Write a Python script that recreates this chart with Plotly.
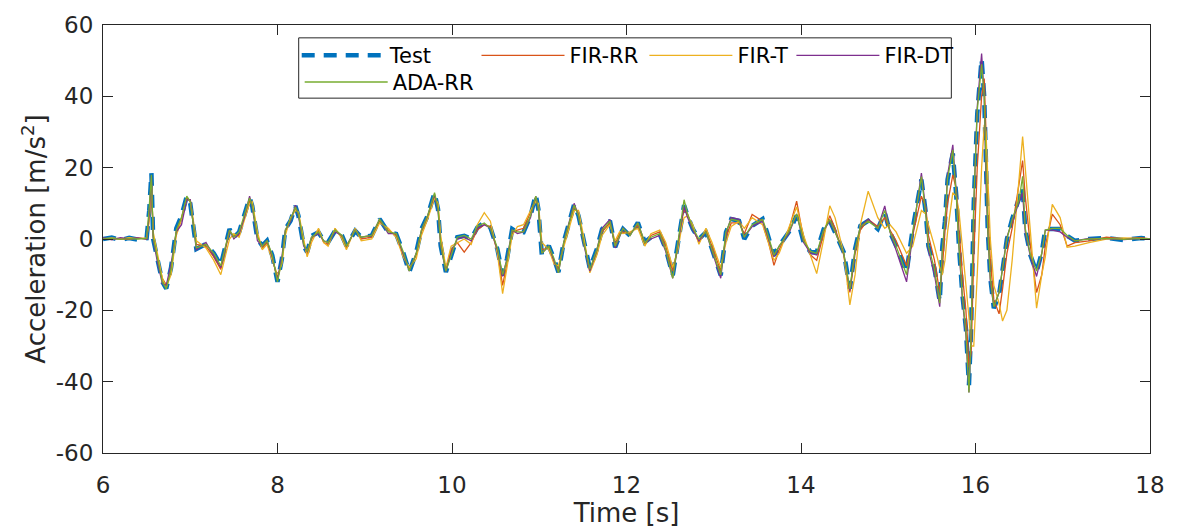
import plotly.graph_objects as go

# time grid [s]
t = [6.00, 6.10, 6.20, 6.30, 6.40, 6.50, 6.53, 6.555, 6.575, 6.62,
     6.68, 6.725, 6.78, 6.84, 6.90, 6.96, 7.00, 7.07, 7.18, 7.27,
     7.35, 7.45, 7.50, 7.56, 7.62, 7.68, 7.71, 7.77, 7.825, 7.88,
     7.94, 8.00, 8.05, 8.09, 8.15, 8.205, 8.24, 8.30, 8.34, 8.39,
     8.47, 8.53, 8.58, 8.66, 8.74, 8.79, 8.89, 8.96, 9.08, 9.17,
     9.27, 9.36, 9.44, 9.51, 9.59, 9.65, 9.72, 9.80, 9.84, 9.87,
     9.93, 9.99, 10.06, 10.14, 10.22, 10.29, 10.37, 10.44, 10.52, 10.58,
     10.63, 10.69, 10.75, 10.82, 10.90, 10.96, 10.99, 11.03, 11.11, 11.17,
     11.22, 11.28, 11.34, 11.40, 11.45, 11.51, 11.58, 11.66, 11.72, 11.81,
     11.87, 11.92, 11.96, 12.04, 12.13, 12.21, 12.28, 12.38, 12.45, 12.53,
     12.59, 12.63, 12.66, 12.70, 12.76, 12.83, 12.91, 12.98, 13.08, 13.14,
     13.20, 13.29, 13.35, 13.44, 13.56, 13.61, 13.69, 13.75, 13.86, 13.95,
     14.03, 14.11, 14.18, 14.26, 14.33, 14.39, 14.49, 14.56, 14.62, 14.68,
     14.77, 14.88, 14.96, 15.02, 15.09, 15.21, 15.28, 15.38, 15.43, 15.46,
     15.53, 15.59, 15.62, 15.65, 15.68, 15.74, 15.78, 15.81, 15.85, 15.89,
     15.925, 15.95, 15.98, 16.02, 16.07, 16.10, 16.12, 16.14, 16.17, 16.21,
     16.27, 16.31, 16.36, 16.42, 16.50, 16.54, 16.57, 16.63, 16.70, 16.76,
     16.80, 16.88, 16.97, 17.05, 17.14, 17.30, 17.50, 17.70, 17.90, 18.00]

test = [0, 0.4, -0.3, 0.3, -0.2, 0.2, 8, 18.5, 0, -5.5,
        -12, -13.9, -8, 3, 6.5, 12, 10, -2.8, -1.4, -4,
        -7.4, 2.8, 0.5, 1.9, 6.5, 11.6, 9.3, 0, -1.9, -0.5,
        -4.6, -12, -5.6, 2.8, 5.1, 9.3, 6.5, -1.9, -3.7, 0.9,
        1.9, -0.5, -0.9, 2.3, 0.9, -1.9, 2.3, 0.5, 0.9, 5.6,
        1.9, 1.4, -3.7, -9.3, -3.7, 2.8, 6.5, 13, 8.3, -1.9,
        -9.3, -4.6, 0.5, 0.9, 0, 3.2, 4.6, 3.2, -2.8, -10.2,
        -5.6, 2.8, 1.9, 1.9, 6.5, 12.5, 8.3, -4.6, -1.9, -5.6,
        -9.3, -0.9, 4.6, 9.7, 6.5, -0.9, -8.3, -2.8, 2.8, 5.1,
        -2.3, 0.9, 2.8, 0.9, 4.6, -0.9, 0.5, 1.4, -2.8, -10.2,
        -0.9, 5.6, 9.5, 6.5, 2.8, 0, 1.9, -2.8, -10.2, 1.9,
        5.6, 5.1, 0, 3.7, 5.6, 1.9, -4.6, -1.9, 1.9, 6.5,
        -0.9, -3.7, -3.7, 2.8, 5.1, 1.9, -3.7, -13.9, -2.8, 3.7,
        5.1, 2.8, 7.4, 1.9, -1.9, -9.3, 2.8, 16.7, 7.4, -1.9,
        -8.3, -17.5, -2, 5, 16.7, 24, 12, -1.9, -15.7, -25,
        -41, -25, 10, 35, 50.5, 39.8, 16.7, 2.8, -11, -19.4,
        -15.7, -8.3, 0, 5.6, 11, 14.5, 2.8, -4.6, -9.3, -3.7,
        2.8, 2.8, 2.8, 0.9, -0.5, 0, 0.3, -0.3, 0.3, 0]

fir_rr = [0.2, 0.1, 0.2, -0.1, 0.3, 0, 6, 16, 1, -5,
          -11, -13, -9, 2, 6, 11.5, 10.5, -1.5, -2, -5,
          -8.5, 2, 1, 1, 6, 10.5, 10, 1, -2.5, -1,
          -5.5, -11, -6.5, 2, 5.5, 8.5, 7, -1, -4.5, 0,
          2.5, -1, -1.5, 2.8, 0.5, -2.5, 2.8, 0, 0.5, 5,
          2.5, 1, -4.5, -8.5, -4.5, 2, 6, 12, 9, -0.5,
          -9, -3, -1, -3.7, -1, 2.5, 4, 3.5, -3.5, -13,
          -7, 2, 2.5, 3, 7.5, 11.5, 9, -3, -2.5, -6.5,
          -8.5, -1.5, 4, 9, 7, -0.5, -9, -3.5, 2, 4.5,
          -1.5, 1.5, 2, 1.5, 3.8, -1.5, 1, 2, -2, -9,
          -2, 5, 8, 7, 3, -1, 2.5, -2, -9, 0.5,
          4.5, 4.5, 1.5, 6.9, 5, 1, -7.4, -3, 2.5, 10.6,
          0, -4.5, -6, 1.5, 6.5, 3, -4.5, -15, -4, 2.5,
          5.5, 3.5, 6, 2.5, -0.5, -7.5, 1, 12, 9, 1,
          -6, -15, -8, 2, 10, 18, 14, 3, -10, -20,
          -36, -32, -5, 20, 40, 45, 30, 8, -6, -17,
          -21, -14, -4, 3, 15, 22, 12, -2, -15, -10,
          -2, 7, 4, -2, -1, -0.5, 0.5, 0, 0.4, 0]

fir_t = [0, 0.3, 0, 0.4, 0.1, 0.3, 5, 15, 2, -4,
         -11, -13.5, -10, 1, 5.5, 11, 11, -0.5, -2.5, -6,
         -10, 0, 1.5, 0.5, 5, 10, 10.5, 2, -3, -1.5,
         -6, -10, -7, 1, 6, 8, 7.5, 0, -5, -1,
         3, -1, -2, 3, 0, -3, 3, -0.5, 0, 4.5,
         3, 0.5, -5, -8, -5.5, 1, 5.5, 11.5, 10, 1,
         -8, -2, -1, 0, -1.5, 4, 7.4, 5, -4, -15.3,
         -8, 1, 3.5, 4, 8, 10.5, 10, -1, -3, -7,
         -7.5, -2.5, 3, 8, 8, 0.5, -9.5, -4.5, 1, 4,
         -0.5, 2, 1.5, 2, 3, -2, 1.5, 2.5, -1, -8,
         -3, 3, 6, 6.5, 4, -1.5, 3, -1, -8, -1,
         3.5, 5, 3, 6, 4, 0, -6, -4, 3, 9,
         1, -5, -9.7, 0, 9.3, 6, -4, -18.5, -10, 4,
         13.4, 6, 3, 4, 2, -4, -2, 8, 7, 4,
         -2, -8, -10, -6, 2, 13, 12, 8, -2, -12,
         -22, -30, -30, -10, 20, 32, 30, 18, 0, -13,
         -18, -23, -20, -6, 18, 28.7, 20, 2, -19.4, -10,
         -5, 9.7, 6, -2.3, -2, -1, 0, 0.3, 0, 0]

fir_dt = [0.3, -0.2, 0.4, 0, 0.3, -0.1, 7, 17.5, 0, -6,
          -12.5, -13, -7, 2, 4, 11, 11, -3, -1, -4.5,
          -8, 2.5, 0, 1.5, 6, 12, 9, -0.5, -2, -0.5,
          -5, -11.5, -5, 2.5, 5, 9.5, 6.5, -2, -3.5, 0.5,
          1.5, -0.5, -1, 2, 1, -2, 2.5, 0.5, 1, 5.5,
          1.5, 1.5, -4, -9, -4, 2.5, 6.5, 12.5, 8, -2,
          -9, -4, 0, 0.5, -0.5, 3, 4, 3, -3, -10.5,
          -5.5, 2.5, 1.5, 2, 6, 12, 8.5, -4, -2, -6,
          -9.5, -1, 4.5, 10, 6.5, -1.5, -9, -3, 3, 5.5,
          -2.5, 0.5, 3, 1, 4.5, -1, 0, 1, -3.5, -11,
          -1, 5, 9, 6, 2.5, -0.5, 2, -3.5, -11, 1.5,
          6, 5.5, 0.5, 3.5, 5, 1.5, -5, -2, 1.5, 7,
          -1, -4, -4.5, 2.5, 5, 2, -4, -14.5, -3, 3.5,
          5.5, 3, 9.3, 2, -3, -12, 1, 18.5, 8, -3,
          -10, -19, -3, 4, 18, 26.4, 13, -2, -17, -27,
          -43, -26, 9, 37, 52, 40, 16, 2, -12, -19,
          -15, -7.5, 0.5, 5, 10.5, 13, 2, -5, -10.5, -4,
          2.5, 2.5, 2, 0.5, -0.5, 0.2, 0.1, -0.2, 0.2, 0]

ada_rr = [0, 0.2, -0.1, 0.1, 0, 0.2, 9, 18, 0.5, -5,
          -12, -14, -8.5, 2.5, 6, 12, 10.5, -2.5, -1.5, -4,
          -7.5, 2.5, 0.5, 2, 6.5, 11.5, 9.5, 0.5, -2, -0.5,
          -4.5, -12, -6, 2.5, 5.5, 9, 7, -1.5, -3.5, 0.5,
          2, -0.5, -1, 2.5, 1, -2, 2.5, 0.5, 1, 5.5,
          2, 1.5, -3.5, -9, -4, 2.5, 6.5, 13, 8.5, -1.5,
          -9, -4.5, 0.5, 1, 0, 3.5, 4.5, 3, -2.5, -10,
          -6, 2.5, 2, 2, 6.5, 12, 8.5, -4, -2, -5.5,
          -9.5, -1, 4.5, 9.5, 6.5, -1, -8.5, -3, 2.5, 5,
          -2, 1, 3, 1, 4.5, -1, 0.5, 1.5, -3, -11,
          -1, 6, 11, 7, 3, 0, 2, -3, -10, 2,
          5.5, 5, 0.5, 4, 5.5, 2, -4.5, -2, 2, 7,
          -0.5, -3.5, -4, 2.5, 5.5, 2, -4, -14, -3, 3.5,
          5, 3, 8, 2, -2, -10, 2, 17.5, 7, -2,
          -8.5, -18, -3, 5, 17, 25, 12, -2, -16, -26,
          -43, -26, 10, 36, 49, 40, 17, 3, -11, -19,
          -15, -8, 0, 5.5, 11, 17.6, 3, -4.5, -9, -4,
          2.5, 3, 3, 1, -0.5, 0, 0.2, -0.1, 0.2, 0]

names = ["Test", "FIR-RR", "FIR-T", "FIR-DT", "ADA-RR"]
series = [test, fir_rr, fir_t, fir_dt, ada_rr]
colors = ["#0072BD", "#D95319", "#EDB120", "#7E2F8E", "#77AC30"]
x_ticks = [6, 8, 10, 12, 14, 16, 18]
y_ticks = [-60, -40, -20, 0, 20, 40, 60]
y_tick_text = ["-60", "-40", "-20", "0", "20", "40", "60"]

# plot-area geometry (px)
W, H = 1177, 529
L, R, T, B = 103, 20, 24, 72
pw, ph = W - L - R, H - T - B

def px2x(px):
    return (px - L) / pw

def py2y(py):
    return (H - B - py) / ph

# legend item positions: (line start px, row centre py)
leg_pos = [(303, 55), (484, 55), (653, 55), (801, 55), (306, 82)]

fig = go.Figure()
for i, (nm, ys, c) in enumerate(zip(names, series, colors)):
    if i == 0:
        line = dict(color=c, width=4.5, dash="13px,9px")
    else:
        line = dict(color=c, width=1.3)
    lg = "legend" if i == 0 else f"legend{i+1}"
    fig.add_trace(go.Scatter(x=t, y=ys, mode="lines", name=nm, line=line,
                             legend=lg))

legend_common = dict(bgcolor="rgba(0,0,0,0)", borderwidth=0,
                     font=dict(family="DejaVu Sans", size=21, color="#000000"),
                     itemwidth=83, xanchor="left", yanchor="middle",
                     orientation="h", tracegroupgap=0)
legends = {}
for i, (lx, ly) in enumerate(leg_pos):
    key = "legend" if i == 0 else f"legend{i+1}"
    legends[key] = dict(legend_common, x=px2x(lx - 5), y=py2y(ly))

axis_common = dict(showgrid=False, zeroline=False, showline=True, mirror="ticks",
                   linecolor="#262626", linewidth=1, ticks="inside", ticklen=10,
                   tickcolor="#262626", tickwidth=1,
                   tickfont=dict(family="DejaVu Sans", size=23, color="#262626"))

fig.update_layout(
    width=W, height=H,
    margin=dict(l=L, r=R, t=T, b=B, pad=0),
    paper_bgcolor="white", plot_bgcolor="white",
    showlegend=True,
    xaxis=dict(axis_common, range=[6, 18], tickvals=x_ticks,
               ticklabelstandoff=11,
               title=dict(text="Time [s]", standoff=1,
                          font=dict(family="DejaVu Sans", size=26, color="#262626"))),
    yaxis=dict(axis_common, range=[-60, 60], tickvals=y_ticks,
               ticktext=y_tick_text, ticklabelstandoff=4,
               title=dict(text="Acceleration [m/s<sup>2</sup>]", standoff=2,
                          font=dict(family="DejaVu Sans", size=26, color="#262626"))),
    shapes=[dict(type="rect", xref="paper", yref="paper",
                 x0=px2x(300), x1=px2x(957), y0=py2y(98), y1=py2y(37),
                 line=dict(color="#262626", width=1), fillcolor="rgba(0,0,0,0)",
                 layer="above")],
    **legends,
)

fig.write_html("out.html")
